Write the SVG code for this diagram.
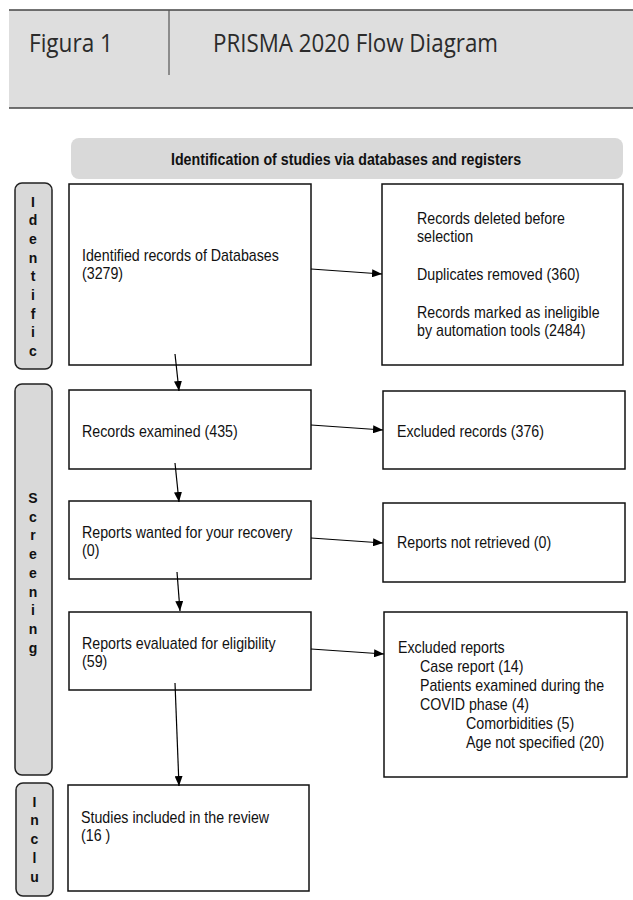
<svg xmlns="http://www.w3.org/2000/svg" width="633" height="900" viewBox="0 0 633 900">
<style>
.hdr{font-family:"Open Sans","Liberation Sans",sans-serif;font-size:25px;fill:#2b2b2b}
.t{font-family:"Liberation Sans",Arial,sans-serif;font-size:16px;fill:#111}
.b{font-family:"Liberation Sans",Arial,sans-serif;font-size:16px;font-weight:bold;fill:#111}
.lab{font-family:"Liberation Sans",Arial,sans-serif;font-size:14px;font-weight:bold;fill:#111;text-anchor:middle}
.box{fill:#fff;stroke:#111;stroke-width:1.5}
.side{fill:#d9d9d9;stroke:#222;stroke-width:1.5}
.con{stroke:#000;stroke-width:1.2;fill:none;marker-end:url(#ah)}
</style>
<defs>
<marker id="ah" markerUnits="userSpaceOnUse" markerWidth="10" markerHeight="8" refX="10" refY="4" orient="auto">
<path d="M0,0 L10,4 L0,8 Z" fill="#000"/>
</marker>
</defs>
<rect width="633" height="900" fill="#fff"/>

<g id="header">
<rect x="9" y="10" width="624" height="98" fill="#dedede"/>
<line x1="9" y1="10" x2="633" y2="10" stroke="#444" stroke-width="1.3"/>
<line x1="9" y1="108" x2="633" y2="108" stroke="#444" stroke-width="1.3"/>
<line x1="169" y1="10" x2="169" y2="75" stroke="#555" stroke-width="1.2"/>
<text class="hdr" x="29" y="52" textLength="84" lengthAdjust="spacingAndGlyphs">Figura 1</text>
<text class="hdr" x="213" y="52" textLength="285" lengthAdjust="spacingAndGlyphs">PRISMA 2020 Flow Diagram</text>
</g>

<g id="banner">
<rect x="71" y="138" width="552" height="41" rx="8" fill="#d9d9d9"/>
<text class="b" text-anchor="middle" transform="translate(346,165) scale(0.89,1)">Identification of studies via databases and registers</text>
</g>

<g id="label-identific">
<rect class="side" x="15" y="183" width="37" height="186" rx="7"/>
<text class="lab"><tspan x="33" y="206.5">I</tspan><tspan x="33" y="225.2">d</tspan><tspan x="33" y="243.9">e</tspan><tspan x="33" y="262.6">n</tspan><tspan x="33" y="281.3">t</tspan><tspan x="33" y="300">i</tspan><tspan x="33" y="318.7">f</tspan><tspan x="33" y="337.4">i</tspan><tspan x="33" y="356.1">c</tspan></text>
</g>

<g id="label-screening">
<rect class="side" x="15" y="384" width="37" height="391" rx="7"/>
<text class="lab"><tspan x="33" y="503">S</tspan><tspan x="33" y="521.7">c</tspan><tspan x="33" y="540.4">r</tspan><tspan x="33" y="559.1">e</tspan><tspan x="33" y="577.8">e</tspan><tspan x="33" y="596.5">n</tspan><tspan x="33" y="615.2">i</tspan><tspan x="33" y="633.9">n</tspan><tspan x="33" y="652.6">g</tspan></text>
</g>

<g id="label-inclu">
<rect class="side" x="16" y="783" width="37" height="113" rx="7"/>
<text class="lab"><tspan x="34.5" y="806.5">I</tspan><tspan x="34.5" y="825.3">n</tspan><tspan x="34.5" y="844.1">c</tspan><tspan x="34.5" y="862.9">l</tspan><tspan x="34.5" y="881.7">u</tspan></text>
</g>

<g id="identified">
<rect class="box" x="69" y="184" width="242" height="181"/>
<text class="t" transform="translate(82,0) scale(0.89,1)"><tspan x="0" y="261">Identified records of Databases</tspan><tspan x="0" y="279">(3279)</tspan></text>
</g>

<g id="deleted">
<rect class="box" x="382" y="184" width="241" height="181"/>
<text class="t" transform="translate(417,0) scale(0.89,1)"><tspan x="0" y="224">Records deleted before</tspan><tspan x="0" y="242">selection</tspan><tspan x="0" y="280">Duplicates removed (360)</tspan><tspan x="0" y="318">Records marked as ineligible</tspan><tspan x="0" y="336">by automation tools (2484)</tspan></text>
</g>

<g id="examined">
<rect class="box" x="69" y="390" width="242" height="79"/>
<text class="t" transform="translate(82,437) scale(0.89,1)">Records examined (435)</text>
</g>

<g id="excluded-records">
<rect class="box" x="383" y="391" width="242" height="78"/>
<text class="t" transform="translate(397,437) scale(0.89,1)">Excluded records (376)</text>
</g>

<g id="wanted">
<rect class="box" x="69" y="501" width="242" height="78"/>
<text class="t" transform="translate(82,0) scale(0.89,1)"><tspan x="0" y="538">Reports wanted for your recovery</tspan><tspan x="0" y="556">(0)</tspan></text>
</g>

<g id="not-retrieved">
<rect class="box" x="383" y="503" width="242" height="79"/>
<text class="t" transform="translate(397,548) scale(0.89,1)">Reports not retrieved (0)</text>
</g>

<g id="evaluated">
<rect class="box" x="69" y="612" width="242" height="78"/>
<text class="t" transform="translate(82,0) scale(0.89,1)"><tspan x="0" y="649">Reports evaluated for eligibility</tspan><tspan x="0" y="667">(59)</tspan></text>
</g>

<g id="excluded-reports">
<rect class="box" x="384" y="612" width="243" height="165"/>
<text class="t" transform="translate(398,0) scale(0.89,1)"><tspan x="0" y="653">Excluded reports</tspan><tspan x="24.7" y="672">Case report (14)</tspan><tspan x="24.7" y="691">Patients examined during the</tspan><tspan x="24.7" y="710">COVID phase (4)</tspan><tspan x="76.4" y="729">Comorbidities (5)</tspan><tspan x="76.4" y="748">Age not specified (20)</tspan></text>
</g>

<g id="included">
<rect class="box" x="68" y="785" width="241" height="106"/>
<text class="t" transform="translate(81,0) scale(0.89,1)"><tspan x="0" y="823">Studies included in the review</tspan><tspan x="0" y="841">(16 )</tspan></text>
</g>

<g id="connectors">
<line class="con" x1="175" y1="354" x2="179" y2="391"/>
<line class="con" x1="175" y1="463" x2="179" y2="502"/>
<line class="con" x1="177" y1="572" x2="180" y2="611"/>
<line class="con" x1="175" y1="683" x2="179" y2="786"/>
<line class="con" x1="311" y1="269" x2="382" y2="274"/>
<line class="con" x1="311" y1="425" x2="383" y2="430"/>
<line class="con" x1="311" y1="538" x2="383" y2="543"/>
<line class="con" x1="311" y1="649" x2="384" y2="654"/>
</g>
</svg>
